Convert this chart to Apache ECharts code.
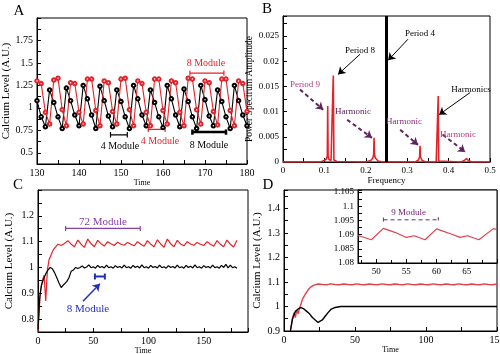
<!DOCTYPE html>
<html>
<head>
<meta charset="utf-8">
<script src="https://cdn.jsdelivr.net/npm/echarts@6/dist/echarts.min.js"></script>
<style>html,body{margin:0;padding:0;background:#fff}#chart{width:500px;height:354px}</style>
</head>
<body>
<div id="chart"></div>
<script>
// ---- panel A: calcium level, t = 130..180 (step 1)
const aTime = Array.from({ length: 51 }, (_, i) => 130 + i)
const aBlack = [1.08, 0.9, 0.79,
  1.2, 1.06, 0.9, 0.77, 1.22, 1.08, 0.92, 0.8, 1.25, 1.1, 0.92, 0.77,
  1.24, 1.08, 0.91, 0.79, 1.2, 1.07, 0.9, 0.77, 1.25, 1.1, 0.92, 0.8,
  1.2, 1.06, 0.9, 0.78, 1.25, 1.1, 0.92, 0.79, 1.21, 1.07, 0.9, 0.77,
  1.25, 1.09, 0.91, 0.8, 1.2, 1.07, 0.9, 0.77, 1.25, 1.08, 0.92, 0.8]
const aRed = [1.3, 1.27, 0.95,
  0.82, 1.31, 1.33, 0.98, 0.8, 1.28, 1.27, 0.95, 0.82, 1.32, 1.32, 0.97,
  0.8, 1.3, 1.28, 0.96, 0.82, 1.32, 1.33, 0.98, 0.8, 1.3, 1.27, 0.95,
  0.8, 1.32, 1.32, 0.97, 0.82, 1.3, 1.28, 0.95, 0.8, 1.33, 1.32, 0.98,
  0.82, 1.3, 1.28, 0.96, 0.81, 1.32, 1.32, 0.97, 0.8, 1.3, 1.27, 0.96]

// ---- panel B: power spectrum
const bFreq = [0, 0.09, 0.1, 0.105, 0.107, 0.108, 0.109, 0.111, 0.116, 0.12,
  0.1215, 0.123, 0.13, 0.2, 0.212, 0.217, 0.219, 0.22, 0.221, 0.223,
  0.23, 0.24, 0.32, 0.327, 0.33, 0.331, 0.332, 0.336, 0.345, 0.37,
  0.374, 0.375, 0.376, 0.38, 0.43, 0.438, 0.443, 0.448, 0.455, 0.5]
const bRed = [0, 0, 0.0003, 0.0006, 0.0012, 0.0111, 0.0012, 0.0005, 0.0003, 0.0004,
  0.0172, 0.0004, 0.0001, 0, 0.0003, 0.0008, 0.0015, 0.0048, 0.0015, 0.0008,
  0.0002, 0, 0, 0.0004, 0.001, 0.0032, 0.001, 0.0003, 0, 0,
  0.0002, 0.0131, 0.0002, 0, 0, 0.0003, 0.0007, 0.0003, 0, 0]
const bBlackFreq = [0.25, 0.25]
const bBlack = [0, 0.029]

// ---- panel C: transient + steady state
const cBlackHead = [[0, 0.76], [1.5, 0.88], [3, 0.93], [5, 0.955], [7, 0.975], [9, 0.99],
  [11, 1.0], [13, 0.995], [15, 0.98], [17, 0.96], [19, 0.94], [21, 0.922], [22.5, 0.93],
  [24, 0.925], [26, 0.945], [28, 0.96], [30, 0.985], [32, 0.99], [34, 1.0], [36, 0.996]]
const cBlackTail = [ // t = 38..180 step 2
  1.0, 1.006, 0.998, 1.002, 1.01, 0.999, 1.003, 0.997,
  1.008, 1.0, 1.004, 0.998, 1.009, 0.999, 1.003, 0.997,
  1.007, 1.0, 1.004, 0.998, 1.009, 0.999, 1.003, 0.997,
  1.008, 1.0, 1.005, 0.998, 1.01, 0.999, 1.003, 0.997,
  1.008, 1.0, 1.004, 0.998, 1.009, 0.999, 1.003, 0.997,
  1.007, 1.0, 1.004, 0.998, 1.009, 0.999, 1.003, 0.997,
  1.008, 1.0, 1.005, 0.998, 1.01, 0.999, 1.003, 0.997,
  1.007, 1.0, 1.004, 0.998, 1.009, 0.999, 1.003, 0.997,
  1.008, 1.0, 1.012, 0.998, 1.009, 0.999, 1.003, 0.997]
const cRedHead = [[0, 0.75], [2, 0.9], [4, 0.95], [5.5, 0.97], [7, 0.87], [8.5, 0.99],
  [10, 1.03], [12, 1.05], [14, 1.07], [16, 1.08], [18, 1.09]]
const cRedTail = [ // t = 21..180 step 3
  1.085, 1.093, 1.104, 1.09, 1.08, 1.106, 1.09, 1.078, 1.11, 1.092,
  1.08, 1.105, 1.092, 1.083, 1.1, 1.092, 1.085, 1.098, 1.09, 1.086,
  1.097, 1.09, 1.084, 1.1, 1.09, 1.082, 1.104, 1.09, 1.08, 1.107,
  1.091, 1.078, 1.11, 1.092, 1.08, 1.105, 1.091, 1.084, 1.1, 1.091,
  1.086, 1.097, 1.09, 1.085, 1.1, 1.09, 1.082, 1.104, 1.09, 1.08,
  1.106, 1.09, 1.079, 1.105]

// ---- panel D
const dBlack = [[4.5, 0.9], [6, 0.95], [8, 0.98], [10, 0.99], [12, 0.995], [14, 0.99],
  [16, 0.98], [18, 0.97], [20, 0.955], [22, 0.945], [24, 0.935], [25, 0.932], [27, 0.945],
  [29, 0.96], [31, 0.975], [33, 0.988], [36, 0.996], [40, 1.0], [150, 1.0]]
const dRedHead = [[4.5, 0.9], [6, 0.95], [7, 0.975], [8, 0.955], [9, 0.985], [10, 0.97],
  [11, 0.995], [12, 1.01], [13, 1.03], [15, 1.05], [17, 1.068], [19, 1.08], [21, 1.087]]
const dRedTail = [ // t = 24..150 step 3
  1.0915, 1.0898, 1.0886, 1.092, 1.0899, 1.0884, 1.0918, 1.0897, 1.0885, 1.0921,
  1.0899, 1.0884, 1.0919, 1.0898, 1.0886, 1.092, 1.0897, 1.0884, 1.0918, 1.0899,
  1.0885, 1.0921, 1.0898, 1.0884, 1.0919, 1.0897, 1.0886, 1.092, 1.0899, 1.0884,
  1.0918, 1.0898, 1.0885, 1.0921, 1.0897, 1.0884, 1.0919, 1.0899, 1.0886, 1.092,
  1.0898, 1.0884, 1.0918]
const dInsetTime = [47, 49.2, 51.2, 53.1, 55, 56.3, 58.1, 60, 62.4, 63.9, 65.1, 67, 69.4, 70]
const dInsetRed = [1.0897, 1.0882, 1.0922, 1.0908, 1.089, 1.0896, 1.0882, 1.092, 1.0902,
  1.089, 1.0896, 1.0882, 1.0921, 1.0918]

// annotation brackets: [axisIdx, x1, x2, y, halfCap, color, width, dashed]
const RED = '#e2232a'
const brackets = [
  [0, 166.4, 174.5, 1.387, 0.03, RED, 1.2, false],
  [0, 147.5, 151.5, 0.70, 0.03, '#000', 1.2, false],
  [0, 156.5, 160.5, 0.76, 0.03, RED, 1.2, false],
  [0, 167, 175, 0.73, 0.03, '#000', 2.5, false],
  [2, 25, 92.5, 1.151, 0.01, '#8a3fa6', 1.2, false],
  [2, 51.5, 60.5, 0.965, 0.012, '#2430b8', 2, false],
  [4, 51.2, 60.3, 1.0952, 0.0008, '#6a2a6a', 1, true]
]
// arrows in panel B: [x1, y1, x2, y2]
const bSolidArrows = [[0.302, 0.0244, 0.254, 0.0202], [0.186, 0.0214, 0.133, 0.0174], [0.452, 0.0138, 0.377, 0.0094]]
const bDashArrows = [[0.041, 0.0144, 0.097, 0.0104], [0.155, 0.0084, 0.215, 0.0048],
  [0.283, 0.0064, 0.326, 0.0034], [0.386, 0.0054, 0.44, 0.002]]
const cArrow = [[40.7, 0.869, 56, 0.937]]

// texts: [text, x, y, color, size]
const texts = [
  ['A', 19, 11, '#000', 15], ['B', 267, 9, '#000', 15], ['C', 18, 185, '#000', 15], ['D', 268, 185, '#000', 15],
  ['8 Module', 206, 63, RED, 10], ['4 Module', 120, 146.5, '#000', 10],
  ['4 Module', 160, 141.5, RED, 10], ['8 Module', 209, 145, '#000', 10],
  ['Period 4', 420, 33.5, '#000', 9], ['Period 8', 360, 51, '#000', 9],
  ['Period 9', 305, 85, '#b0407e', 9], ['Harmonic', 353, 112, '#5e2460', 9],
  ['Harmonic', 404, 121.5, '#8a2e7a', 9], ['Harmonics', 471, 89.5, '#000', 9],
  ['Harmonic', 458, 135, '#b0407e', 9],
  ['72 Module', 103, 222.5, '#8a3fa6', 11], ['8 Module', 88, 309.5, '#2430b8', 11],
  ['9 Module', 408.5, 213, '#702070', 9]
]

const SERIF = 'Liberation Serif'
const onStep = (v, s) => Math.abs(v / s - Math.round(v / s)) < 1e-6
const every = (s, lo, hi) => v => (onStep(v, s) && v >= lo - 1e-9 && v <= hi + 1e-9) ? String(+v.toFixed(4)) : ''

function axis(grid, min, max, interval, fmt, extra, fontSize) {
  return Object.assign({
    type: 'value', gridIndex: grid, min, max, interval,
    axisLine: { onZero: false, lineStyle: { color: '#000', width: 1 } },
    axisTick: { inside: true, length: 4, lineStyle: { color: '#000' } },
    axisLabel: { color: '#000', fontFamily: SERIF, fontSize: fontSize || 10, margin: 4, formatter: fmt, showMinLabel: true, showMaxLabel: true },
    splitLine: { show: false },
    nameLocation: 'middle',
    nameTextStyle: { color: '#000', fontFamily: SERIF, fontSize: 8 }
  }, extra)
}

function line(i, data, color, width, extra) {
  return Object.assign({
    type: 'line', xAxisIndex: i, yAxisIndex: i, data, showSymbol: false, symbol: 'none',
    lineStyle: { color, width }, itemStyle: { color }, animation: false, silent: true,
    z: i === 4 ? 8 : 2
  }, extra)
}

function arrows(list, style) {
  return {
    silent: true, animation: false, symbol: ['none', 'arrow'], symbolSize: 7,
    label: { show: false }, lineStyle: style,
    data: list.map(a => [{ coord: [a[0], a[1]] }, { coord: [a[2], a[3]] }])
  }
}

const marker = { showSymbol: true, symbol: 'emptyCircle', symbolSize: 3.5 }
const series = [
  line(0, aTime.map((t, i) => [t, aBlack[i]]), '#000', 1.1, marker),
  line(0, aTime.map((t, i) => [t, aRed[i]]), RED, 1.1, marker),
  line(1, bFreq.map((f, i) => [f, bRed[i]]), RED, 1.6, { markLine: arrows(bDashArrows, { color: '#5e2460', width: 2, type: [4, 3] }) }),
  line(1, bBlackFreq.map((f, i) => [f, bBlack[i]]), '#000', 3, { markLine: arrows(bSolidArrows, { color: '#000', width: 1, type: 'solid' }) }),
  line(2, cRedHead.concat(cRedTail.map((v, i) => [21 + 3 * i, v])), RED, 1.2),
  line(2, cBlackHead.concat(cBlackTail.map((v, i) => [38 + 2 * i, v])), '#000', 1.2),
  line(3, dRedHead.concat(dRedTail.map((v, i) => [24 + 3 * i, v])), '#e0404c', 1.4),
  line(3, dBlack, '#000', 1.4),
  line(4, dInsetTime.map((t, i) => [t, dInsetRed[i]]), '#e0404c', 1.2)
]
brackets.forEach(b => {
  const [i, x1, x2, y, h, color, w, dashed] = b
  series.push(line(i, [[x1, y + h], [x1, y - h], [x1, y], [x2, y], [x2, y + h], [x2, y - h]], color, w,
    { lineStyle: { color, width: w, type: dashed ? [4, 3] : 'solid' } }))
})
series.push(line(2, [], '#2430b8', 1.5, { markLine: arrows(cArrow, { color: '#2430b8', width: 1.5, type: 'solid' }) }))

const gridBase = { show: true, borderColor: '#000', borderWidth: 1, backgroundColor: '#fff', containLabel: false, outerBoundsMode: 'none' }

const chart = echarts.init(document.getElementById('chart'), null, { renderer: 'canvas' })
chart.setOption({
  animation: false,
  backgroundColor: '#fff',
  grid: [
    Object.assign({ left: 37, top: 18, width: 210, height: 146 }, gridBase),
    Object.assign({ left: 283, top: 16, width: 207, height: 146 }, gridBase),
    Object.assign({ left: 38, top: 190, width: 210, height: 142 }, gridBase),
    Object.assign({ left: 284, top: 190, width: 213, height: 141 }, gridBase),
    Object.assign({ left: 358, top: 190, width: 139, height: 73, z: 5 }, gridBase)
  ],
  xAxis: [
    axis(0, 130, 180, 5, every(10, 130, 180), { name: 'Time', nameGap: 12 }),
    axis(1, 0, 0.5, 0.05, every(0.1, 0, 0.5), { name: 'Frequency', nameGap: 10, nameTextStyle: { color: '#000', fontFamily: SERIF, fontSize: 9 } }, 9),
    axis(2, 0, 190, 25, every(50, 0, 150), { name: 'Time', nameGap: 14 }),
    axis(3, 0, 150, 25, every(50, 0, 150), { name: 'Time', nameGap: 15 }),
    axis(4, 47, 70, undefined, v => (v > 47.5 && v < 69.5) ? String(v) : '', { minorTick: { show: true, splitNumber: 2, length: 3 }, z: 6 }, 9)
  ],
  yAxis: [
    axis(0, 0.375, 2, 0.125, every(0.25, 0.5, 1.75), { name: 'Calcium Level (A.U.)', nameGap: 22, nameTextStyle: { color: '#000', fontFamily: SERIF, fontSize: 11 } }),
    axis(1, 0, 0.029, 0.0025, every(0.005, 0, 0.025), { name: 'Power Spectrum Amplitude', nameGap: 23, nameTextStyle: { color: '#000', fontFamily: SERIF, fontSize: 9.5 } }, 9),
    axis(2, 0.75, 1.3, 0.05, every(0.1, 0.8, 1.2), { name: 'Calcium Level (A.U.)', nameGap: 23, nameTextStyle: { color: '#000', fontFamily: SERIF, fontSize: 11 } }),
    axis(3, 0.9, 1.475, 0.05, every(0.1, 0.9, 1.4), { name: 'Calcium Level (A.U.)', nameGap: 21, nameTextStyle: { color: '#000', fontFamily: SERIF, fontSize: 11 } }),
    axis(4, 1.08, 1.1057, 0.0025, every(0.005, 1.08, 1.105), { z: 6 }, 9)
  ],
  series,
  graphic: texts.map(([text, x, y, fill, size]) => ({
    type: 'text', x, y, z: 100, silent: true,
    style: { text, fill, font: size + 'px "' + SERIF + '"', align: 'center', verticalAlign: 'middle' }
  }))
})
window.addEventListener('resize', () => chart.resize())
</script>
</body>
</html>
